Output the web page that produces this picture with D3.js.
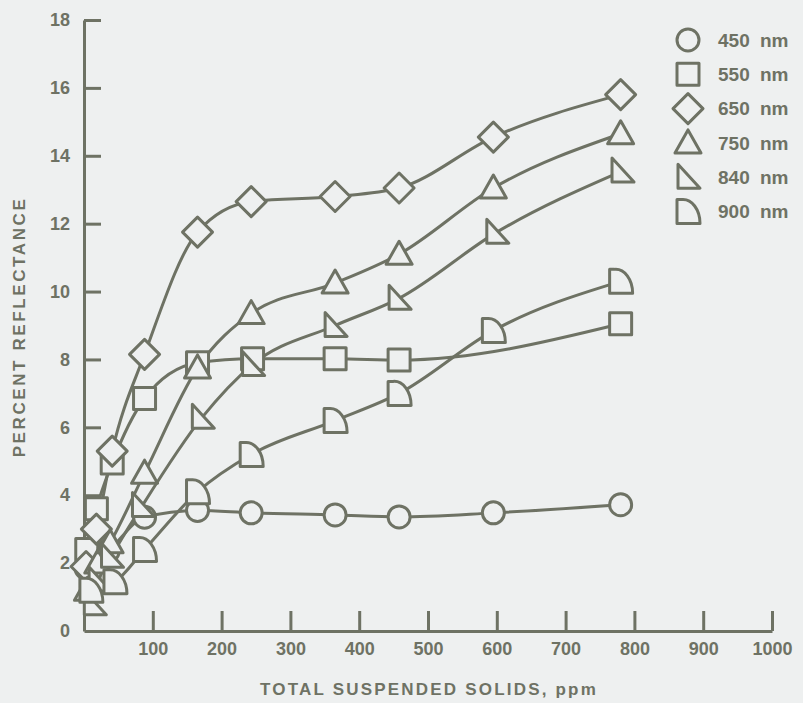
<!DOCTYPE html>
<html lang="en">
<head>
<meta charset="UTF-8">
<title>Percent reflectance vs total suspended solids</title>
<script src="https://d3js.org/d3.v7.min.js"></script>
<style>
    body { margin: 0; background: #eef0f0; }
    svg { display: block; }
    text { font-family: "Liberation Sans", Arial, sans-serif; font-weight: bold; fill: #6e7264; }
</style>
</head>
<body>
<svg id="chart" width="803" height="703"></svg>
<script>
const ink = "#6e7264";
const bg = "#eef0f0";

// wavelengths in legend order
const wavelengths = ["450 nm", "550 nm", "650 nm", "750 nm", "840 nm", "900 nm"];
const xTicks = [100, 200, 300, 400, 500, 600, 700, 800, 900, 1000];
const yTicks = [0, 2, 4, 6, 8, 10, 12, 14, 16, 18];

// [ppm, percent reflectance]
const s450 = [[3, 1.85], [35, 2.35], [88, 3.35], [165, 3.55], [243, 3.48], [365, 3.42], [458, 3.36], [595, 3.48], [780, 3.72]];
const s550 = [[4, 2.4], [18, 3.6], [41, 4.95], [88, 6.85], [165, 7.9], [245, 8.02], [365, 8.02], [458, 7.98], [780, 9.05]];
const s650 = [[3, 1.9], [18, 3.0], [41, 5.3], [88, 8.15], [165, 11.75], [243, 12.65], [365, 12.8], [458, 13.05], [595, 14.55], [780, 15.8]];
const s750 = [[5, 1.2], [20, 2.0], [38, 2.6], [88, 4.65], [165, 7.75], [243, 9.35], [365, 10.25], [458, 11.1], [595, 13.05], [780, 14.65]];
const s840 = [[15, 0.8], [22, 1.5], [40, 2.2], [85, 3.7], [172, 6.3], [245, 7.85], [365, 9.0], [458, 9.8], [600, 11.75], [782, 13.55]];
const s900 = [[10, 1.2], [45, 1.45], [88, 2.4], [165, 4.1], [243, 5.2], [365, 6.2], [458, 7.0], [595, 8.85], [780, 10.3]];
const seriesList = [s450, s550, s650, s750, s840, s900];

const svg = d3.select("#chart");

const x = d3.scaleLinear().domain([0, 1000]).range([84, 772]);
const y = d3.scaleLinear().domain([0, 18]).range([631, 20]);

// marker shapes, centred on 0,0
const markers = [
    () => "M-11,0A11,11 0 1,0 11,0A11,11 0 1,0 -11,0Z",
    () => "M-11,-11H11V11H-11Z",
    () => "M0,-15L15,0L0,15L-15,0Z",
    () => "M0,-13L13,10H-13Z",
    () => "M-10,-13L12,11H-10Z",
    () => "M-11,12V-12H-6A17,24 0 0,1 12,12Z"
];

// axes
const yAxis = d3.axisLeft(y).tickValues(yTicks).tickSizeInner(-17).tickSizeOuter(0).tickPadding(14);
const xAxis = d3.axisBottom(x).tickValues(xTicks).tickFormat(d3.format("d"))
    .tickSizeInner(-20).tickSizeOuter(0).tickPadding(11);

const gy = svg.append("g").attr("transform", `translate(${x(0)},0)`).call(yAxis);
const gx = svg.append("g").attr("transform", `translate(0,${y(0)})`).call(xAxis);
[gx, gy].forEach(g => {
    g.selectAll("path, line").attr("stroke", ink).attr("stroke-width", 3);
    g.selectAll("text").attr("font-size", 18).attr("fill", ink);
});
gy.selectAll(".tick").filter(d => d === 0).select("line").remove();

svg.append("text")
    .attr("x", 429).attr("y", 695)
    .attr("text-anchor", "middle")
    .attr("font-size", 17).attr("letter-spacing", 2.2)
    .text("TOTAL SUSPENDED SOLIDS, ppm");

svg.append("text")
    .attr("transform", "translate(25,327) rotate(-90)")
    .attr("text-anchor", "middle")
    .attr("font-size", 17).attr("letter-spacing", 2.6)
    .text("PERCENT REFLECTANCE");

// curves
const line = d3.line().x(d => x(d[0])).y(d => y(d[1])).curve(d3.curveMonotoneX);

seriesList.forEach(s => {
    svg.append("path")
        .datum(s)
        .attr("d", line)
        .attr("fill", "none")
        .attr("stroke", ink)
        .attr("stroke-width", 3);
});

// markers, filled with the paper colour so they hide the lines
seriesList.forEach((s, i) => {
    svg.append("g").selectAll("path")
        .data(s)
        .join("path")
        .attr("transform", d => `translate(${x(d[0])},${y(d[1])})`)
        .attr("d", markers[i])
        .attr("fill", bg)
        .attr("stroke", ink)
        .attr("stroke-width", 3)
        .attr("stroke-linejoin", "round");
});

// legend
const legend = svg.append("g");
wavelengths.forEach((w, i) => {
    const row = legend.append("g").attr("transform", `translate(688,${40 + i * 34.3})`);
    row.append("path")
        .attr("d", markers[i])
        .attr("fill", bg)
        .attr("stroke", ink)
        .attr("stroke-width", 3)
        .attr("stroke-linejoin", "round");
    row.append("text")
        .attr("x", 30).attr("dy", "0.36em")
        .attr("font-size", 19)
        .attr("word-spacing", 5)
        .text(w);
});
</script>
</body>
</html>
